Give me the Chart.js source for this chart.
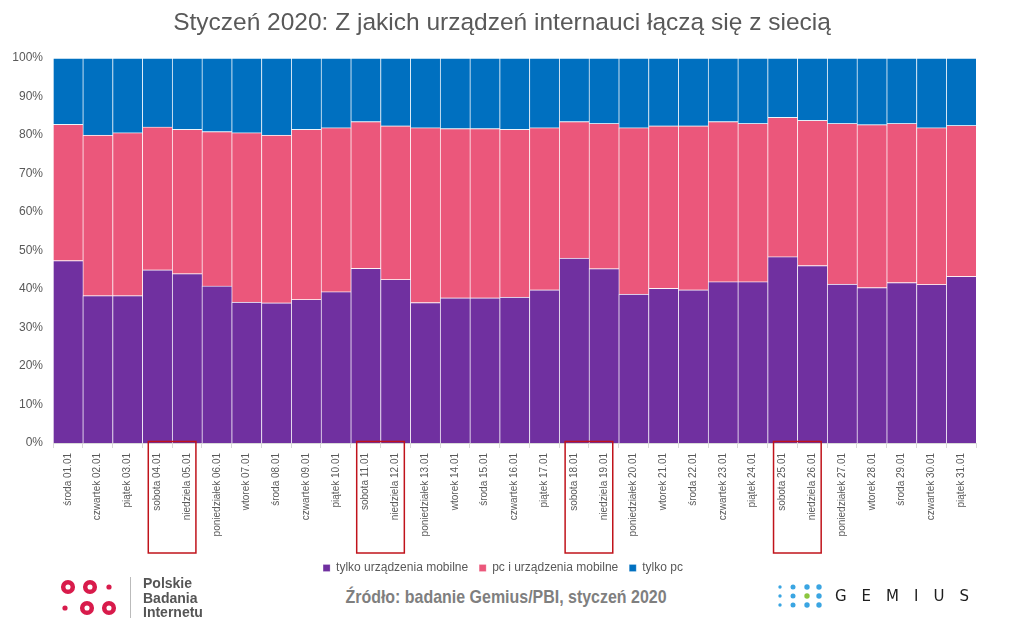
<!DOCTYPE html>
<html>
<head>
<meta charset="utf-8">
<script src="https://cdn.jsdelivr.net/npm/chart.js@4"></script>
<style>
  body { margin: 0; background: #fff; font-family: "Liberation Sans", Arial, sans-serif; }
  #wrap { position: relative; width: 1024px; height: 638px; overflow: hidden; }
  #title { position: absolute; left: 0; width: 1004px; top: 10px; text-align: center;
           font-size: 24.5px; line-height: 24px; color: #595959; }
  #chartBox { position: absolute; left: 0; top: 0; width: 1024px; height: 584px; }
  #source { position: absolute; left: 0; width: 1012px; top: 586px; text-align: center;
            font-weight: bold; font-size: 19px; color: #7f7f7f;
            transform: scaleX(0.84); transform-origin: 506px 0; }
  #pbi { position: absolute; left: 55px; top: 575px; }
  #pbiText { position: absolute; left: 143px; top: 576px; font-weight: bold; font-size: 14px;
             line-height: 14.5px; color: #555; }
  #gemius { position: absolute; left: 774px; top: 580px; }
  #gemiusText { position: absolute; left: 835px; top: 587px; font-size: 15px; line-height: 18px;
                letter-spacing: 15px; color: #1e1e1e; font-family: "DejaVu Sans", sans-serif; }
</style>
</head>
<body>
<div id="wrap">
  <div id="chartBox"><canvas id="chart" width="1024" height="584"></canvas></div>
  <div id="title">Styczeń 2020: Z jakich urządzeń internauci łączą się z siecią</div>
  <div id="source">Źródło: badanie Gemius/PBI, styczeń 2020</div>
  <svg id="pbi" width="80" height="48">
    <g fill="none" stroke="#d81b4b" stroke-width="4.5">
      <circle cx="13" cy="12" r="4.8"/>
      <circle cx="35" cy="12" r="4.8"/>
      <circle cx="32" cy="33" r="4.8"/>
      <circle cx="54" cy="33" r="4.8"/>
    </g>
    <g fill="#d81b4b">
      <circle cx="54" cy="12" r="2.6"/>
      <circle cx="10" cy="33" r="2.6"/>
    </g>
    <line x1="75.5" y1="2" x2="75.5" y2="43" stroke="#bbb" stroke-width="1"/>
  </svg>
  <div id="pbiText">Polskie<br>Badania<br>Internetu</div>
  <svg id="gemius" width="52" height="34">
    <g fill="#3aa5e2">
      <circle cx="6" cy="7" r="1.7"/><circle cx="19" cy="7" r="2.5"/><circle cx="33" cy="7" r="2.7"/><circle cx="45" cy="7" r="2.7"/>
      <circle cx="6" cy="16" r="1.7"/><circle cx="19" cy="16" r="2.5"/><circle cx="45" cy="16" r="2.7"/>
      <circle cx="6" cy="25" r="1.7"/><circle cx="19" cy="25" r="2.5"/><circle cx="33" cy="25" r="2.7"/><circle cx="45" cy="25" r="2.7"/>
    </g>
    <circle cx="33" cy="16" r="2.7" fill="#8cc63f"/>
  </svg>
  <div id="gemiusText">GEMIUS</div>
</div>
<script>
const days = ['środa 01.01', 'czwartek 02.01', 'piątek 03.01', 'sobota 04.01', 'niedziela 05.01',
  'poniedziałek 06.01', 'wtorek 07.01', 'środa 08.01', 'czwartek 09.01', 'piątek 10.01',
  'sobota 11.01', 'niedziela 12.01', 'poniedziałek 13.01', 'wtorek 14.01', 'środa 15.01',
  'czwartek 16.01', 'piątek 17.01', 'sobota 18.01', 'niedziela 19.01', 'poniedziałek 20.01',
  'wtorek 21.01', 'środa 22.01', 'czwartek 23.01', 'piątek 24.01', 'sobota 25.01',
  'niedziela 26.01', 'poniedziałek 27.01', 'wtorek 28.01', 'środa 29.01', 'czwartek 30.01',
  'piątek 31.01'];

// shares in %
const mobileOnly = [47.4, 38.3, 38.3, 45.0, 44.0, 40.8, 36.6, 36.4, 37.3, 39.3, 45.4, 42.5, 36.5, 37.7, 37.7,
  37.9, 39.8, 48.0, 45.3, 38.7, 40.2, 39.8, 41.9, 41.9, 48.4, 46.1, 41.3, 40.4, 41.7, 41.2, 43.3];
const pcAndMobile = [35.4, 41.7, 42.3, 37.1, 37.5, 40.1, 44.0, 43.6, 44.2, 42.6, 38.1, 39.9, 45.4, 44.0, 44.0,
  43.6, 42.1, 35.5, 37.7, 43.2, 42.2, 42.6, 41.6, 41.1, 36.2, 37.7, 41.7, 42.3, 41.3, 40.7, 39.2];
const pcOnly = [17.2, 20.0, 19.4, 17.9, 18.5, 19.1, 19.4, 20.0, 18.5, 18.1, 16.5, 17.6, 18.1, 18.3, 18.3,
  18.5, 18.1, 16.5, 17.0, 18.1, 17.6, 17.6, 16.5, 17.0, 15.4, 16.2, 17.0, 17.3, 17.0, 18.1, 17.5];

const yTicks = [0, 10, 20, 30, 40, 50, 60, 70, 80, 90, 100];
// saturdays - each weekend (sat + sun) gets a red frame
const saturdays = [3, 10, 17, 24];

const edge = { top: 1, left: 1, right: 0, bottom: 0 };

// red frames round the weekend labels
const weekendFrames = {
  id: 'weekendFrames',
  afterDraw(chart) {
    const ctx = chart.ctx;
    const x = chart.scales.x;
    const w = x.width / days.length;
    ctx.save();
    ctx.strokeStyle = '#c0131b';
    ctx.lineWidth = 1.5;
    saturdays.forEach(i => {
      const left = x.getPixelForValue(i) - w * 0.3;
      const right = x.getPixelForValue(i + 1) + w * 0.3;
      ctx.strokeRect(left, chart.chartArea.bottom - 1.5, right - left, 111.5);
    });
    ctx.restore();
  }
};

// legend sits a bit right of the plot centre in the original
const legendShift = {
  id: 'legendShift',
  afterLayout(chart) {
    chart.legend.left += 15;
    chart.legend.right += 15;
  }
};

const ctx = document.getElementById('chart').getContext('2d');
new Chart(ctx, {
  type: 'bar',
  data: {
    labels: days,
    datasets: [
      { label: 'tylko urządzenia mobilne', data: mobileOnly, backgroundColor: '#7030a0' },
      { label: 'pc i urządzenia mobilne', data: pcAndMobile, backgroundColor: '#eb577b' },
      { label: 'tylko pc', data: pcOnly, backgroundColor: '#0070c0' }
    ].map(d => Object.assign(d, {
      borderColor: 'rgba(255,255,255,0.4)',
      borderWidth: edge,
      borderSkipped: false,
      barPercentage: 1,
      categoryPercentage: 1
    }))
  },
  options: {
    responsive: false,
    animation: false,
    layout: { padding: { left: 0, right: 48, top: 58, bottom: 0 } },
    plugins: {
      title: { display: false },
      tooltip: { enabled: false },
      legend: {
        position: 'bottom',
        labels: {
          boxWidth: 7, boxHeight: 7, padding: 11,
          color: '#595959',
          font: { family: '"Liberation Sans", Arial, sans-serif', size: 12 }
        }
      }
    },
    scales: {
      x: {
        stacked: true,
        grid: { drawOnChartArea: false, drawTicks: true, tickLength: 5, color: '#d9d9d9' },
        border: { color: '#d9d9d9' },
        ticks: {
          minRotation: 90, maxRotation: 90, autoSkip: false, padding: 5,
          color: '#595959',
          font: { family: '"Liberation Sans", Arial, sans-serif', size: 10 }
        },
        afterFit: s => { s.height = 108; }
      },
      y: {
        stacked: true,
        min: 0, max: 100,
        grid: { display: false },
        border: { display: false },
        afterBuildTicks: s => { s.ticks = yTicks.map(v => ({ value: v })); },
        ticks: {
          padding: 2,
          color: '#595959',
          font: { family: '"Liberation Sans", Arial, sans-serif', size: 12 },
          callback: v => v + '%'
        },
        afterFit: s => { s.width = 53; }
      }
    }
  },
  plugins: [weekendFrames, legendShift]
});
</script>
</body>
</html>
